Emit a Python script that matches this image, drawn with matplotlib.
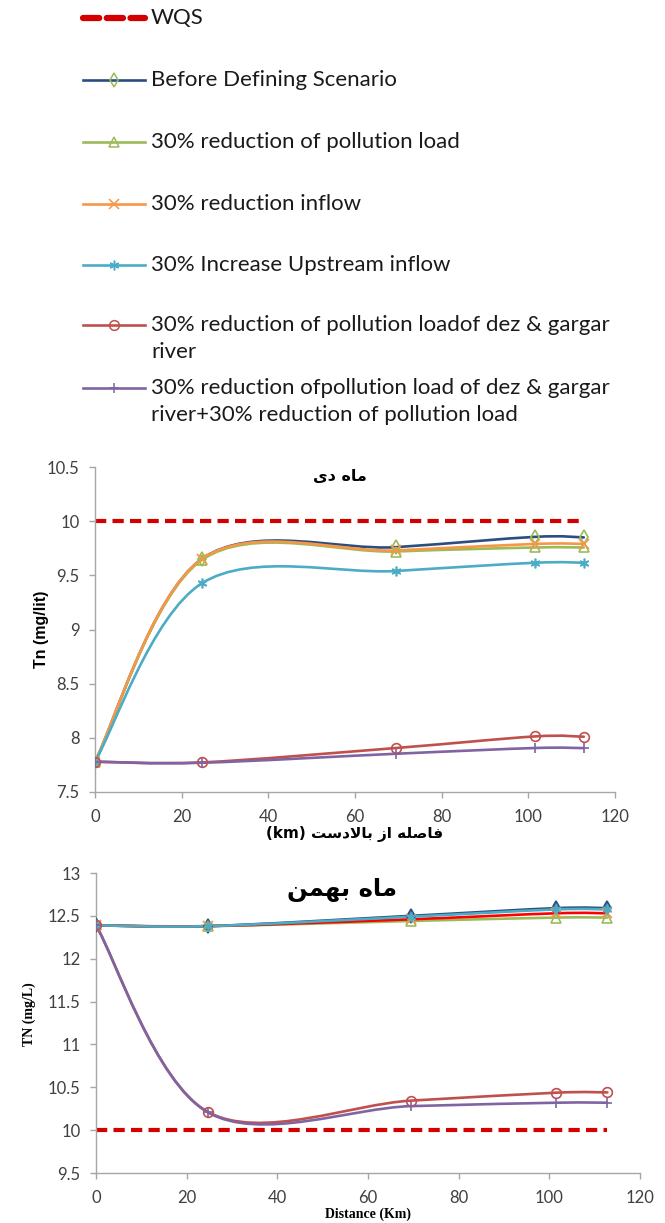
import numpy as np
import matplotlib
matplotlib.use("Agg")
import matplotlib.pyplot as plt
from matplotlib.path import Path
from matplotlib.patches import PathPatch
from matplotlib.ticker import FuncFormatter, MultipleLocator

# distance of the sampling stations from upstream (km)
distance = [0, 24.6, 69.4, 101.5, 112.8]
wqs_limit = [10, 10, 10, 10, 10]

# TN in Dey month (mg/lit)
dey_before = [7.78, 9.65, 9.76, 9.855, 9.85]
dey_load30 = [7.78, 9.64, 9.72, 9.757, 9.757]
dey_inflow30 = [7.78, 9.65, 9.73, 9.79, 9.79]
dey_upstream30 = [7.78, 9.425, 9.54, 9.616, 9.616]
dey_dezgargar = [7.78, 7.773, 7.906, 8.013, 8.01]
dey_combined = [7.78, 7.77, 7.853, 7.906, 7.905]

# TN in Bahman month (mg/L)
bah_before = [12.39, 12.38, 12.50, 12.59, 12.59]
bah_load30 = [12.39, 12.38, 12.44, 12.48, 12.48]
bah_inflow30 = [12.39, 12.38, 12.46, 12.53, 12.53]
bah_upstream30 = [12.39, 12.38, 12.49, 12.575, 12.575]
bah_dezgargar = [12.39, 10.215, 10.344, 10.437, 10.44]
bah_combined = [12.39, 10.21, 10.28, 10.32, 10.32]

labels = [
    "WQS",
    "Before Defining Scenario",
    "30% reduction of pollution load",
    "30% reduction inflow",
    "30% Increase Upstream inflow",
    "30% reduction of pollution loadof dez & gargar\nriver",
    "30% reduction ofpollution load of dez & gargar\nriver+30% reduction of pollution load",
]

WQS_RED = "#D40000"
styles = [
    # line colour, marker, marker edge, marker face
    ("#2C4D7F", "d", "#9BBB59", "none"),
    ("#9BBB59", "^", "#9BBB59", "none"),
    ("#F79646", "x", "#F79646", "none"),
    ("#4BACC6", (6, 2, 0), "#4BACC6", "none"),
    ("#C0504D", "o", "#C0504D", "none"),
    ("#8064A2", "+", "#8064A2", "none"),
]

TICK_FONT = "Lato"
TICK_COLOR = "#404040"
SPINE_COLOR = "#A6A6A6"


def smooth_path(xs, ys):
    """Excel-like smoothed line: Catmull-Rom segments as cubic Beziers."""
    pts = np.column_stack([xs, ys]).astype(float)
    n = len(pts)
    verts = [pts[0]]
    codes = [Path.MOVETO]
    for i in range(n - 1):
        p0 = pts[max(i - 1, 0)]
        p1 = pts[i]
        p2 = pts[i + 1]
        p3 = pts[min(i + 2, n - 1)]
        verts += [p1 + (p2 - p0) / 6, p2 - (p3 - p1) / 6, p2]
        codes += [Path.CURVE4] * 3
    return Path(verts, codes)


def draw_series(ax, xs, ys, color, marker, medge, mface, msize=7):
    ax.add_patch(PathPatch(smooth_path(xs, ys), fill=False, edgecolor=color,
                           lw=1.9, capstyle="round", joinstyle="round", zorder=3))
    ax.plot(xs, ys, linestyle="none", marker=marker, markersize=msize,
            markeredgecolor=medge, markerfacecolor=mface, markeredgewidth=1.2,
            zorder=4)


def style_axes(ax, ylim, ystep):
    ax.set_xlim(0, 120)
    ax.set_ylim(*ylim)
    ax.xaxis.set_major_locator(MultipleLocator(20))
    ax.yaxis.set_major_locator(MultipleLocator(ystep))
    ax.yaxis.set_major_formatter(FuncFormatter(lambda v, p: f"{v:g}"))
    for side in ("top", "right"):
        ax.spines[side].set_visible(False)
    for side in ("left", "bottom"):
        ax.spines[side].set_color(SPINE_COLOR)
        ax.spines[side].set_linewidth(1.0)
    ax.tick_params(axis="both", direction="out", length=4, width=1.0,
                   color=SPINE_COLOR, labelcolor=TICK_COLOR, labelsize=12)
    ax.tick_params(axis="y", pad=7)
    ax.tick_params(axis="x", pad=8)
    for lab in ax.get_xticklabels() + ax.get_yticklabels():
        lab.set_fontfamily(TICK_FONT)


def wqs_line(ax, lw=3.0):
    ax.plot(distance, wqs_limit, color=WQS_RED, lw=lw, linestyle=(0, (2.7, 1.5)),
            dash_capstyle="butt", zorder=2)


fig = plt.figure(figsize=(6.65, 12.23), dpi=100)
W, H = 665.0, 1223.0

# ---- legend block (pixel coordinates) ----
leg = fig.add_axes([0, 1 - 440 / H, 1, 440 / H])
leg.set_xlim(0, W)
leg.set_ylim(440, 0)
leg.axis("off")
rows = [18, 80, 142, 204, 265, 325, 388]
leg_font = dict(fontfamily="Lato", fontsize=16, color="#1A1A1A", va="center")

leg.plot([83, 145], [rows[0], rows[0]], color=WQS_RED, lw=4.5,
         linestyle=(0, (2.6, 1.2)), dash_capstyle="round")
for (color, marker, medge, mface), y in zip(styles, rows[1:]):
    leg.plot([83, 145], [y, y], color=color, lw=1.9)
    leg.plot([114], [y], linestyle="none", marker=marker, markersize=7,
             markeredgecolor=medge, markerfacecolor=mface, markeredgewidth=1.1)
for label, y in zip(labels, rows):
    for k, line in enumerate(label.split("\n")):
        leg.text(151, y + 27 * k, line, **leg_font)

# ---- Dey month ----
ax1 = fig.add_axes([95 / W, 1 - 792 / H, 520 / W, 325 / H])
wqs_line(ax1)
dey = [dey_before, dey_load30, dey_inflow30, dey_upstream30, dey_dezgargar, dey_combined]
for ys, (color, marker, medge, mface) in zip(dey, styles):
    draw_series(ax1, distance, ys, color, marker, medge, mface)
style_axes(ax1, (7.5, 10.5), 0.5)
ax1.set_ylabel("Tn (mg/lit)", fontfamily="Liberation Sans", fontweight="bold",
               fontsize=11.5, color="black", labelpad=6)
ax1.yaxis.set_label_coords(-0.088, 0.5)
# "ماه دی" and "فاصله از بالادست (km)" in shaped glyphs, visual order
fig.text(340 / W, 1 - 476 / H, "\uFBFC\uFEA9 \uFEE9\uFE8E\uFEE3",
         fontfamily="DejaVu Sans", fontweight="bold", fontsize=11.5,
         ha="center", va="center")
fig.text(355 / W, 1 - 834 / H,
         "(km) \uFE96\uFEB3\uFEA9\uFEFB\uFE8E\uFE91 \uFEAF\uFE8D \uFEEA\uFEE0\uFEBB\uFE8E\uFED3",
         fontfamily="DejaVu Sans", fontweight="bold", fontsize=11,
         ha="center", va="center")

# ---- Bahman month ----
ax2 = fig.add_axes([96 / W, 1 - 1173 / H, 544 / W, 300 / H])
wqs_line(ax2)
bah = [bah_before, bah_load30, bah_inflow30, bah_upstream30, bah_dezgargar, bah_combined]
bah_styles = list(styles)
bah_styles[0] = ("#2C4D7F", "d", "#2C4D7F", "#4F81BD")
bah_line_colors = ["#2C4D7F", "#9BBB59", "#FF0000", "#4BACC6", "#C0504D", "#8064A2"]
for ys, (color, marker, medge, mface), lc in zip(bah, bah_styles, bah_line_colors):
    draw_series(ax2, distance, ys, lc, marker, medge, mface)
style_axes(ax2, (9.5, 13), 0.5)
ax2.set_xlabel("Distance (Km)", fontfamily="Liberation Serif", fontweight="bold",
               fontsize=10, labelpad=1)
ax2.set_ylabel("TN (mg/L)", fontfamily="Liberation Serif", fontweight="bold",
               fontsize=10)
ax2.yaxis.set_label_coords(-0.11, 0.53)
# "ماه بهمن"
fig.text(342 / W, 1 - 890 / H, "\uFEE6\uFEE4\uFEEC\uFE91 \uFEE9\uFE8E\uFEE3",
         fontfamily="DejaVu Sans", fontweight="bold", fontsize=17.5,
         ha="center", va="center")

fig.savefig("out.png", dpi=100)
